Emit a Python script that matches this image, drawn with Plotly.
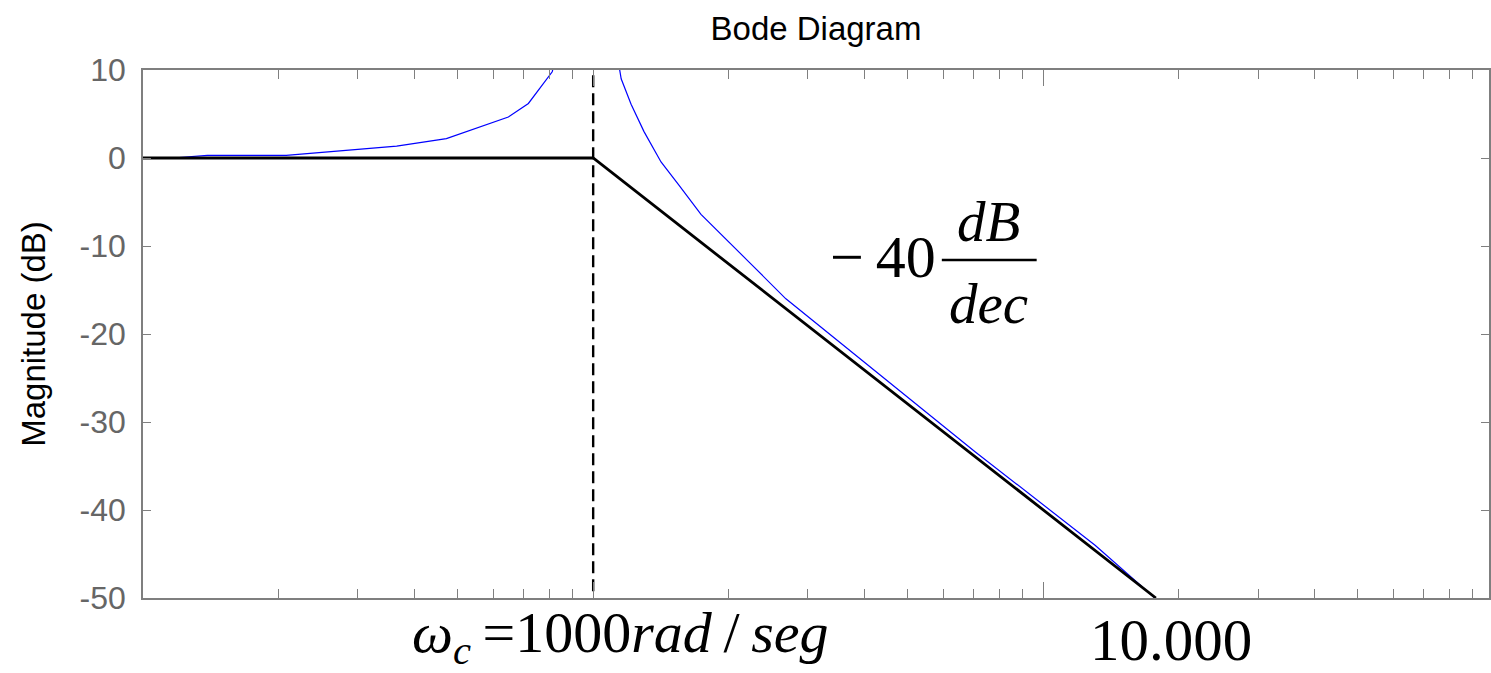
import plotly.graph_objects as go

# Frequency response of the lightly damped second-order system
w_resp = [100, 116.6, 139, 208, 366, 472, 648, 718, 811, 1000,
          1154, 1214, 1297, 1415, 1552, 1736, 2217, 2680, 7063, 13030, 18150]
mag_resp = [0.0, 0.0, 0.3, 0.3, 1.36, 2.2, 4.66, 6.2, 9.8, 28.0,
            9.0, 6.1, 3.0, -0.45, -3.1, -6.4, -11.8, -16.0, -33.4, -44.0, -50.5]

# Straight-line (asymptotic) approximation
w_asym = [100, 1000, 17783]
mag_asym = [0, 0, -50]

# Corner frequency marker
w_corner = [1000, 1000]
mag_corner = [9.4, -49.4]

y_ticks = [-50, -40, -30, -20, -10, 0, 10]
y_ticktext = ["-50", "-40", "-30", "-20", "-10", "0", "10"]
x_major = [100, 1000, 10000, 100000]
x_minor = [m * d for d in (100, 1000, 10000) for m in range(2, 10)]

W, H = 1491, 673
L, R, T, B = 143, 0, 70, 75
pw, ph = W - L - R, H - T - B


def px(x):
    return (x - L) / pw


def py(y):
    return (H - B - y) / ph


fig = go.Figure()
fig.add_trace(go.Scatter(x=w_resp, y=mag_resp, mode="lines",
                         line=dict(color="#0000ff", width=1.2), hoverinfo="skip"))
fig.add_trace(go.Scatter(x=w_asym, y=mag_asym, mode="lines",
                         line=dict(color="black", width=2.8), hoverinfo="skip"))
fig.add_trace(go.Scatter(x=w_corner, y=mag_corner, mode="lines",
                         line=dict(color="black", width=2.4, dash="12px,6px"),
                         hoverinfo="skip"))

axis_color = "#7f7f7f"
sans = "Liberation Sans, Arial, sans-serif"
label_font = dict(family=sans, size=32, color="#666666")

fig.update_xaxes(type="log", range=[2, 4.99], showgrid=False, zeroline=False,
                 showline=True, linecolor=axis_color, linewidth=1.5, mirror="ticks",
                 ticks="inside", ticklen=16, tickwidth=1.2, tickcolor=axis_color,
                 tickmode="array", tickvals=x_major, showticklabels=False,
                 minor=dict(tickmode="array", tickvals=x_minor, ticks="inside",
                            ticklen=9, tickwidth=1.2, tickcolor=axis_color))
fig.update_yaxes(range=[-50, 10], showgrid=False, zeroline=False,
                 showline=True, linecolor=axis_color, linewidth=1.5, mirror="ticks",
                 ticks="inside", ticklen=8, tickwidth=1.2, tickcolor=axis_color,
                 tickmode="array", tickvals=y_ticks, ticktext=y_ticktext,
                 tickfont=label_font, ticklabelstandoff=9,
                 title=dict(text="Magnitude (dB)", standoff=24,
                            font=dict(family=sans, size=33, color="black")))

serif = "Liberation Serif, Times New Roman, serif"
annotations = [
    dict(text="\u2212\u200940", x=px(884), y=py(257), font=dict(family=serif, size=60)),
    dict(text="<i>dB</i>", x=px(990), y=py(221), font=dict(family=serif, size=57)),
    dict(text="<i>dec</i>", x=px(990), y=py(303), font=dict(family=serif, size=57)),
    dict(text="<i>\u03c9</i><sub><i>c</i></sub>\u2009=1000<i>rad</i>\u2009/\u2009<i>seg</i>",
         x=px(621), y=py(636), font=dict(family=serif, size=58)),
    dict(text="10.000", x=px(1173), y=py(640), font=dict(family=serif, size=59)),
]
for a in annotations:
    a.update(xref="paper", yref="paper", showarrow=False,
             xanchor="center", yanchor="middle")
    a["font"]["color"] = "black"

fig.update_layout(
    width=W, height=H,
    margin=dict(l=L, r=R, t=T, b=B),
    paper_bgcolor="white", plot_bgcolor="white",
    showlegend=False,
    title=dict(text="Bode Diagram", x=0.5, xref="paper", xanchor="center",
               y=1 - 28 / H, yanchor="middle", yref="container",
               font=dict(family=sans, size=33, color="black")),
    annotations=annotations,
    shapes=[dict(type="line", xref="paper", yref="paper",
                 x0=px(943), x1=px(1038), y0=py(260), y1=py(260),
                 line=dict(color="black", width=2.5))],
)

fig.write_html("out.html")
